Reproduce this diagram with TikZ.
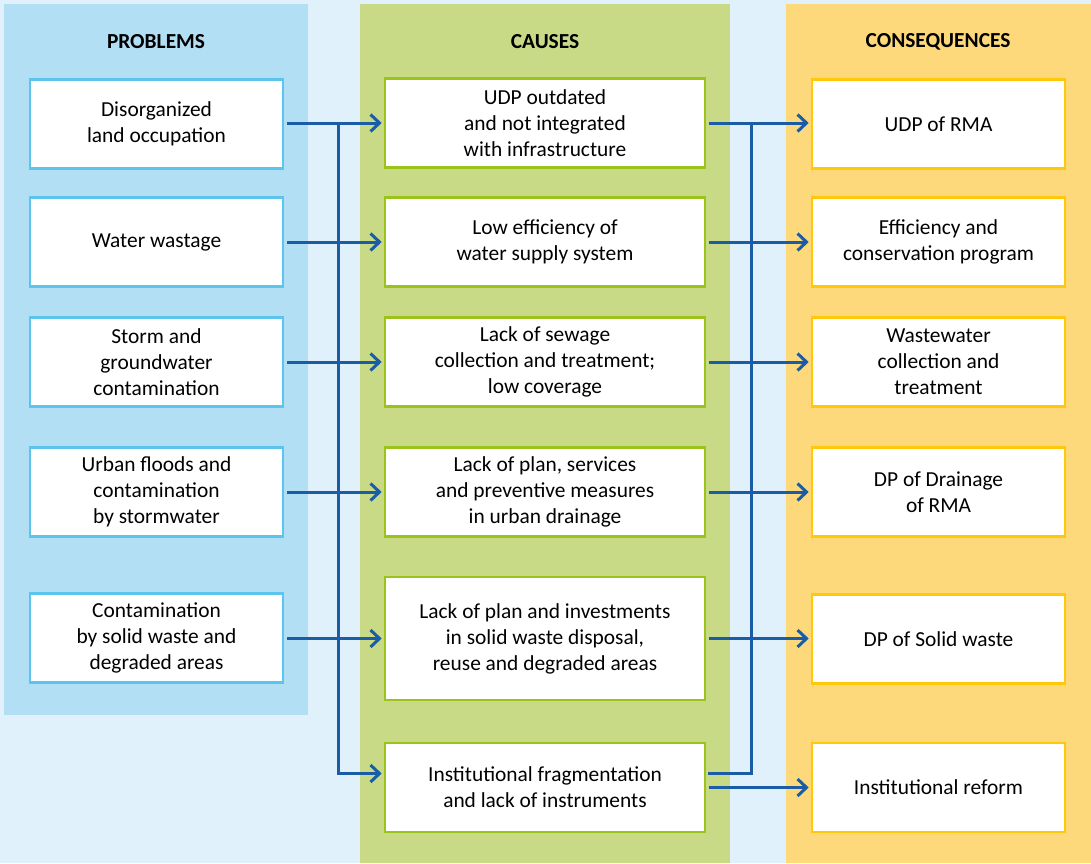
\documentclass[tikz,border=0pt]{standalone}
\usepackage{fontspec}
\setmainfont{Carlito}
\usetikzlibrary{arrows.meta}
\definecolor{bgblue}{HTML}{E0F1FB}
\definecolor{probfill}{HTML}{B2DFF4}
\definecolor{probline}{HTML}{5BC5EE}
\definecolor{causefill}{HTML}{C8DA86}
\definecolor{causeline}{HTML}{9BC31C}
\definecolor{consfill}{HTML}{FED97B}
\definecolor{consline}{HTML}{FFC80A}
\definecolor{arrowblue}{HTML}{1A5DA6}
\tikzset{
	box/.style={draw,fill=white,line width=1.3pt,align=center,inner sep=0pt,
		font=\fontsize{10.7}{13}\selectfont},
	probbox/.style={box,draw=probline,minimum width=126.5pt,minimum height=44.5pt},
	causebox/.style={box,draw=causeline,minimum width=160pt,minimum height=44.5pt},
	consbox/.style={box,draw=consline,minimum width=126.5pt,minimum height=44.5pt},
	head/.style={font=\fontsize{10.7}{12}\selectfont\bfseries},
	link/.style={draw=arrowblue,line width=1.5pt},
	arr/.style={link,-{Straight Barb[length=4.5pt,width=8.5pt,line width=1.5pt]},shorten >=1pt}
}
\begin{document}
\begin{tikzpicture}[x=0.5pt,y=-0.5pt]
	\useasboundingbox (0,0) rectangle (1091,863);
	% panels
	\fill[bgblue] (0,0) rectangle (1091,863);
	\fill[probfill] (4,4) rectangle (308,715);
	\fill[causefill] (360,4) rectangle (730,863);
	\fill[consfill] (786,4) rectangle (1091,863);
	\node[head] (hp) at (156,42) {PROBLEMS};
	\node[head] (hc) at (545,42) {CAUSES};
	\node[head] (hq) at (938,42) {CONSEQUENCES};
	% problems
	\node[probbox] (p1) at (156.5,124) {Disorganized\\land occupation};
	\node[probbox] (p2) at (156.5,242) {Water wastage};
	\node[probbox] (p3) at (156.5,362) {Storm and\\groundwater\\contamination};
	\node[probbox] (p4) at (156.5,492) {Urban floods and\\contamination\\by stormwater};
	\node[probbox] (p5) at (156.5,638) {Contamination\\by solid waste and\\degraded areas};
	% causes
	\node[causebox] (c1) at (545,123) {UDP outdated\\and not integrated\\with infrastructure};
	\node[causebox] (c2) at (545,242) {Low efficiency of\\water supply system};
	\node[causebox] (c3) at (545,362) {Lack of sewage\\collection and treatment;\\low coverage};
	\node[causebox] (c4) at (545,492) {Lack of plan, services\\and preventive measures\\in urban drainage};
	\node[causebox,minimum height=61.5pt] (c5) at (545,638.5) {Lack of plan and investments\\in solid waste disposal,\\reuse and degraded areas};
	\node[causebox] (c6) at (545,787.5) {Institutional fragmentation\\and lack of instruments};
	% consequences
	\node[consbox] (q1) at (938.5,124) {UDP of RMA};
	\node[consbox] (q2) at (938.5,242) {Efficiency and\\conservation program};
	\node[consbox] (q3) at (938.5,362) {Wastewater\\collection and\\treatment};
	\node[consbox] (q4) at (938.5,492) {DP of Drainage\\of RMA};
	\node[consbox] (q5) at (938.5,639) {DP of Solid waste};
	\node[consbox] (q6) at (938.5,787.5) {Institutional reform};
	% arrows
	\foreach \i in {1,...,5} {
		\draw[arr,shorten <=1.5pt] (p\i.east |- c\i.west) -- (c\i.west);
		\draw[arr,shorten <=1.5pt] (c\i.east) -- (q\i.west |- c\i.east);
	}
	\draw[arr,shorten <=1.5pt] (c6) -- (q6);
	\coordinate (jl) at (338,123);
	\coordinate (jr) at (751,123);
	\draw[arr] (jl) |- ([yshift=7pt]c6.west);
	\draw[link] ([xshift=0.75pt,yshift=7pt]c6.east) -| (jr);
\end{tikzpicture}
\end{document}
